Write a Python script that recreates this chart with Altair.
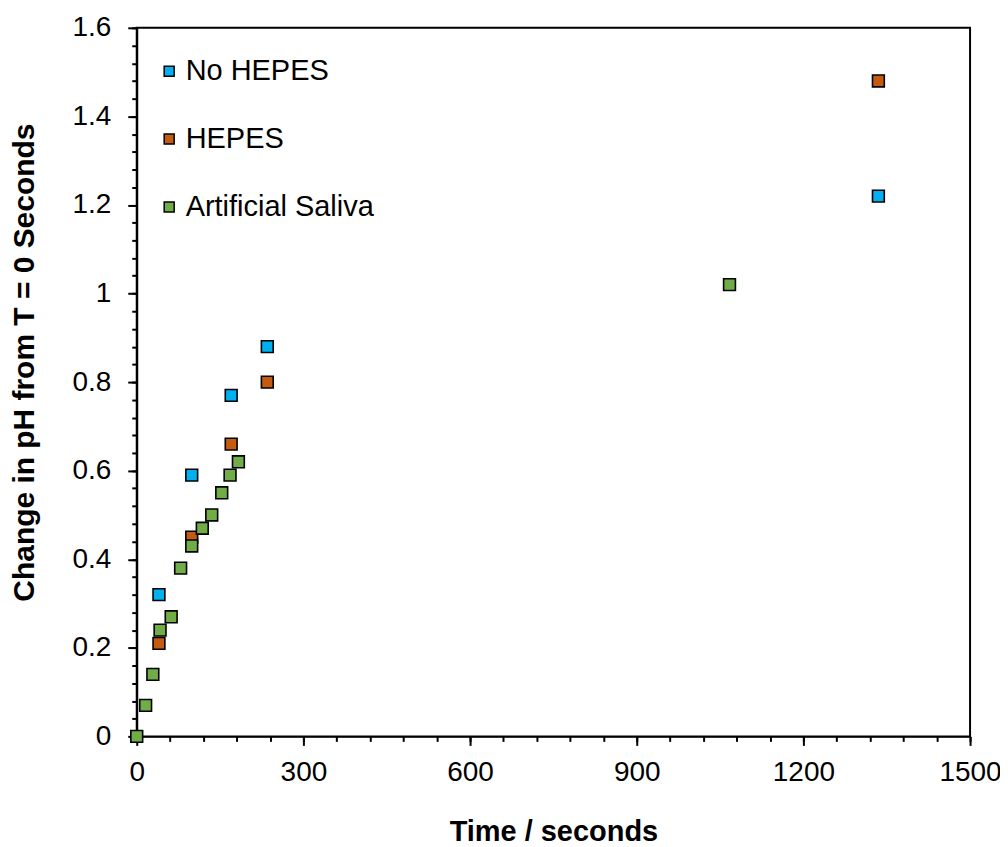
import altair as alt
import pandas as pd

# ---- data ----
no_hepes_t = [40, 99, 170, 235, 1335]
no_hepes_ph = [0.32, 0.59, 0.77, 0.88, 1.22]

hepes_t = [40, 99, 170, 235, 1335]
hepes_ph = [0.21, 0.45, 0.66, 0.80, 1.48]

saliva_t = [0, 16, 29, 42, 62, 79, 99, 118, 135, 153, 168, 183, 1067]
saliva_ph = [0, 0.07, 0.14, 0.24, 0.27, 0.38, 0.43, 0.47, 0.50, 0.55, 0.59, 0.62, 1.02]

series_names = ["No HEPES", "HEPES", "Artificial Saliva"]
series_colors = ["#00B0F0", "#C55A11", "#70AD47"]

x_major = [0, 300, 600, 900, 1200, 1500]
x_minor = [i * 60 for i in range(26)]
y_major = [0, 0.2, 0.4, 0.6, 0.8, 1.0, 1.2, 1.4, 1.6]
y_minor = [round(i * 0.04, 2) for i in range(41)]

rows = []
for name, ts, ps in [
    (series_names[0], no_hepes_t, no_hepes_ph),
    (series_names[1], hepes_t, hepes_ph),
    (series_names[2], saliva_t, saliva_ph),
]:
    for t, p in zip(ts, ps):
        rows.append({"series": name, "t": t, "ph": p})
df = pd.DataFrame(rows)
df["order"] = range(len(df))

FONT = "Liberation Sans"

xscale = alt.Scale(domain=[0, 1500], nice=False, zero=False)
yscale = alt.Scale(domain=[0, 1.6], nice=False, zero=False)

points = alt.Chart(df).mark_point(
    shape="square", filled=True, stroke="black", strokeWidth=1.6, size=140, opacity=1
).encode(
    x=alt.X("t:Q", scale=xscale, axis=alt.Axis(
        orient="bottom", values=x_major, format="d", tickSize=9, tickWidth=2,
        tickColor="black", domainColor="black", domainWidth=2, labelFlush=False,
        labelFont=FONT, labelFontSize=28, labelColor="black", labelPadding=13,
        title="Time / seconds", titleFont=FONT, titleFontSize=29, titleFontWeight="bold",
        titleColor="black", titleY=104, titleBaseline="alphabetic", grid=False,
    )),
    y=alt.Y("ph:Q", scale=yscale, axis=alt.Axis(
        orient="left", values=y_major, format="~g", tickSize=9, tickWidth=2,
        tickColor="black", domainColor="black", domainWidth=2, labelFlush=False,
        labelFont=FONT, labelFontSize=28, labelColor="black", labelPadding=17,
        title="Change in pH from T = 0 Seconds", titleFont=FONT, titleFontSize=30,
        titleFontWeight="bold", titleColor="black", titleAngle=270,
        titleX=-103, titleY=335, titleAlign="center", titleBaseline="alphabetic", grid=False,
    )),
    color=alt.Color("series:N", scale=alt.Scale(domain=series_names, range=series_colors),
                    legend=alt.Legend(
                        title=None, orient="none", legendX=18, legendY=29, padding=0,
                        symbolType="square", symbolSize=100, symbolStrokeColor="black",
                        symbolStrokeWidth=1.5, symbolOpacity=1,
                        labelFont=FONT, labelFontSize=29, labelColor="black",
                        labelOffset=2, labelLimit=500, rowPadding=38, direction="vertical",
                    )),
    order=alt.Order("order:Q"),
)

minor = alt.Chart(df).mark_point(opacity=0).encode(
    x=alt.X("t:Q", scale=xscale, axis=alt.Axis(
        orient="bottom", values=x_minor, labels=False, tickSize=5, tickWidth=2,
        tickColor="black", domain=False, title=None, grid=False,
    )),
    y=alt.Y("ph:Q", scale=yscale, axis=alt.Axis(
        orient="left", values=y_minor, labels=False, tickSize=5, tickWidth=2,
        tickColor="black", domain=False, title=None, grid=False,
    )),
)

chart = alt.layer(minor, points).resolve_axis(
    x="independent", y="independent"
).properties(
    width=835, height=710,
    autosize=alt.AutoSizeParams(type="none"),
    padding={"left": 129, "top": 19, "right": 30, "bottom": 108},
    background="white",
).configure_view(stroke="black", strokeWidth=2)

chart.save("out.html", embed_options={"renderer": "svg", "actions": False})
